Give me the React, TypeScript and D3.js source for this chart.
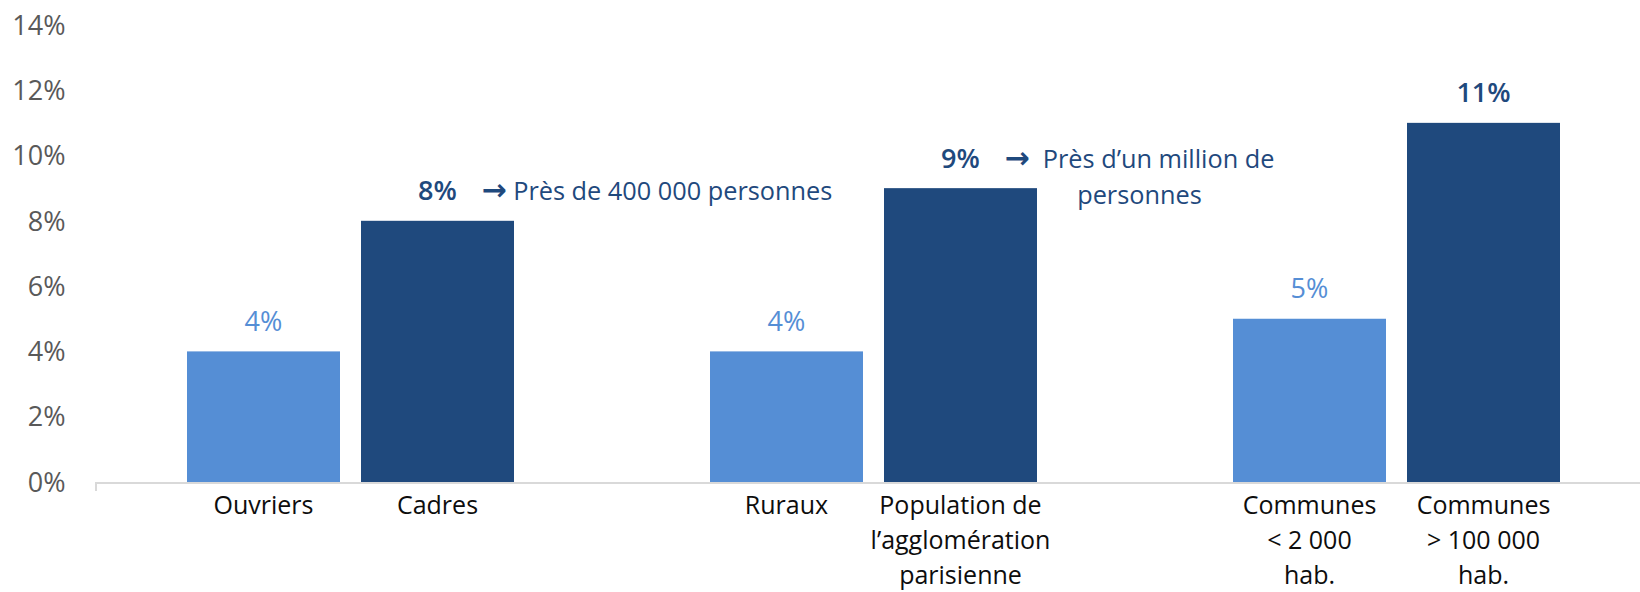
import React, { useLayoutEffect, useRef, useState } from "react";
import * as d3 from "d3";

const groups = ["g1", "g2", "g3"];
const seriesKeys = ["low", "high"];
const lowValues = [4, 4, 5];
const highValues = [8, 9, 11];
const lowLabels = [["Ouvriers"], ["Ruraux"], ["Communes", "< 2 000", "hab."]];
const highLabels = [
  ["Cadres"],
  ["Population de", "l’agglomération", "parisienne"],
  ["Communes", "> 100 000", "hab."],
];
const yTicks = [0, 2, 4, 6, 8, 10, 12, 14];
const annotationGroups = [0, 1];
const annotationArrowGap = [" ", "  "];
const annotationLines = [
  ["Près de 400 000 personnes"],
  ["Près d’un million de", "personnes"],
];

const W = 1640;
const H = 592;
const FONT = "'Open Sans', 'DejaVu Sans', sans-serif";
const LIGHT = "#558ED5";
const DARK = "#1F497D";

export default function App() {
  const y = d3.scaleLinear().domain([0, 14]).range([482, 24.9]);
  const x0 = d3.scaleBand<string>().domain(groups).range([89, 1658]).padding(0);
  const x1 = d3
    .scaleBand<string>()
    .domain(seriesKeys)
    .range([98, 425])
    .paddingInner(0.1207)
    .paddingOuter(0);
  const bw = x1.bandwidth();

  const bars = groups.flatMap((g, i) => [
    { g, i, key: "low", v: lowValues[i], labels: lowLabels[i], color: LIGHT },
    { g, i, key: "high", v: highValues[i], labels: highLabels[i], color: DARK },
  ]);

  const line1Refs = useRef<(SVGTextElement | null)[]>([]);
  const [widths, setWidths] = useState<number[]>([]);
  useLayoutEffect(() => {
    setWidths(line1Refs.current.map((el) => (el ? el.getComputedTextLength() : 0)));
  }, []);

  const fmt = (v: number) => `${v}%`;

  return (
    <div style={{ position: "absolute", left: 0, top: 0 }}>
      <svg width={W} height={H} style={{ display: "block", background: "#fff" }}>
        {/* y tick labels */}
        {yTicks.map((t) => (
          <text
            key={t}
            x={65.5}
            y={y(t)}
            dy="0.36em"
            textAnchor="end"
            fontFamily={FONT}
            fontSize={27}
            fill="#595959"
          >
            {fmt(t)}
          </text>
        ))}

        {/* bars */}
        {bars.map((b) => {
          const bx = (x0(b.g) as number) + (x1(b.key) as number);
          return (
            <rect
              key={b.g + b.key}
              x={bx}
              y={y(b.v)}
              width={bw}
              height={y(0) - y(b.v)}
              fill={b.color}
            />
          );
        })}

        {/* x axis line */}
        <line x1={96} x2={W} y1={483} y2={483} stroke="#D9D9D9" strokeWidth={2} />
        <line x1={96} x2={96} y1={482} y2={491} stroke="#D9D9D9" strokeWidth={2} />

        {/* value labels */}
        {bars.map((b) => {
          const cx = (x0(b.g) as number) + (x1(b.key) as number) + bw / 2;
          return (
            <text
              key={"v" + b.g + b.key}
              x={cx}
              y={y(b.v) - 20.5}
              textAnchor="middle"
              fontFamily={FONT}
              fontSize={27}
              fontWeight={b.key === "high" ? 600 : 400}
              fill={b.color}
            >
              {fmt(b.v)}
            </text>
          );
        })}

        {/* annotations */}
        {annotationGroups.map((gi, ai) => {
          const g = groups[gi];
          const cx = (x0(g) as number) + (x1("high") as number) + bw / 2;
          const baseY = y(highValues[gi]) - 20.5;
          const startX = cx + 44;
          const w = widths[ai] || 0;
          return (
            <g key={"a" + ai} fontFamily={FONT} fontSize={25.3} fill={DARK}>
              {annotationLines[ai].map((ln, li) =>
                li === 0 ? (
                  <text
                    key={li}
                    ref={(el) => {
                      line1Refs.current[ai] = el;
                    }}
                    x={startX}
                    y={baseY}
                    textAnchor="start"
                    style={{ whiteSpace: "pre" }}
                  >
                    <tspan fontFamily="'DejaVu Sans', sans-serif" fontSize={30} fontWeight={700}>
                      →
                    </tspan>
                    <tspan>{annotationArrowGap[ai] + ln}</tspan>
                  </text>
                ) : (
                  <text key={li} x={startX + w / 2} y={baseY + li * 36} textAnchor="middle">
                    {ln}
                  </text>
                )
              )}
            </g>
          );
        })}

        {/* category labels */}
        {bars.map((b) => {
          const cx = (x0(b.g) as number) + (x1(b.key) as number) + bw / 2;
          return (
            <text
              key={"c" + b.g + b.key}
              textAnchor="middle"
              fontFamily={FONT}
              fontSize={25}
              fill="#0D0D0D"
            >
              {b.labels.map((ln, li) => (
                <tspan key={li} x={cx} y={514 + li * 35}>
                  {ln}
                </tspan>
              ))}
            </text>
          );
        })}
      </svg>
    </div>
  );
}
